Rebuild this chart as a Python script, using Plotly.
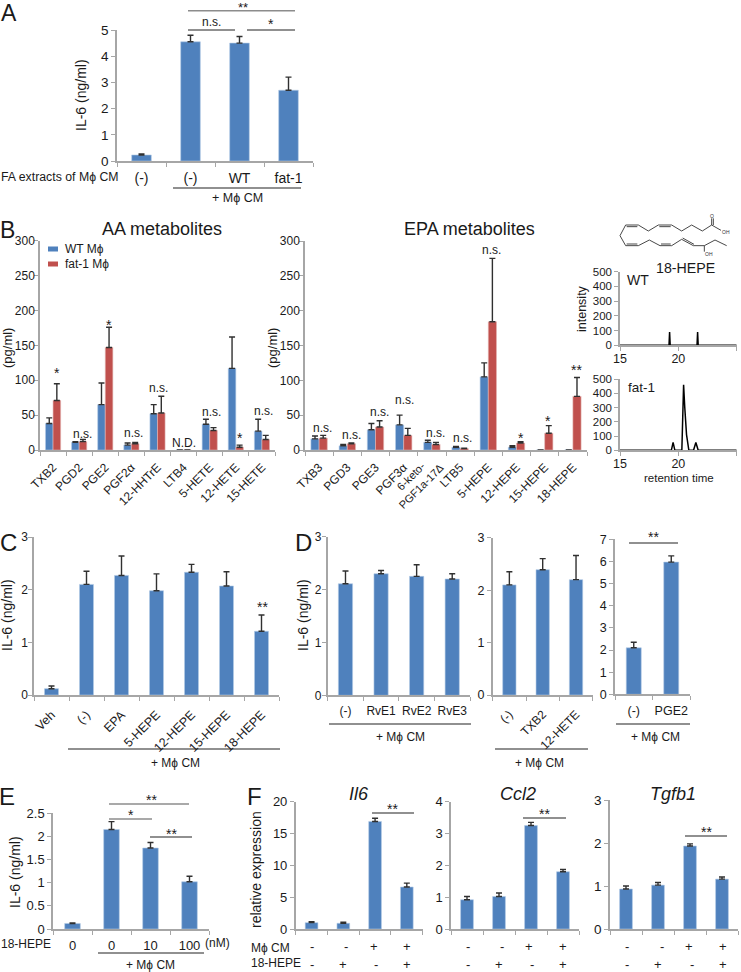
import plotly.graph_objects as go

W, H = 741, 972
BLUE = "#4f81bd"
RED = "#c0504d"
AX = "#a6a6a6"
INK = "#1a1a1a"
FONT = "Liberation Sans, Arial, sans-serif"
MCM = "+ M\u03d5 CM"

# ---------- data ----------
a_labels = ["(-)", "(-)", "WT", "fat-1"]
a_vals = [0.23, 4.55, 4.50, 2.70]
a_errs = [0.04, 0.25, 0.25, 0.50]

aa_labels = ["TXB2", "PGD2", "PGE2", "PGF2\u03b1", "12-HHTrE", "LTB4", "5-HETE", "12-HETE", "15-HETE"]
aa_wt = [38, 11, 65, 7, 52, 0, 37, 117, 27]
aa_wt_err = [8, 1, 31, 3, 13, 0, 7, 45, 17]
aa_fat = [71, 12, 147, 9, 53, 0, 28, 4, 15]
aa_fat_err = [24, 3, 29, 2, 24, 0, 4, 3, 6]

epa_labels = ["TXB3", "PGD3", "PGE3", "PGF3\u03b1", "", "LTB5", "5-HEPE", "12-HEPE", "15-HEPE", "18-HEPE"]
epa_long_label = "6-keto-<br>PGF1a-17\u2206"
epa_wt = [16, 6, 29, 36, 11, 4, 105, 4, 0, 0]
epa_wt_err = [4, 2, 9, 14, 3, 1, 20, 2, 0, 0]
epa_fat = [17, 9, 33, 21, 8, 2, 184, 10, 24, 77]
epa_fat_err = [4, 1, 9, 10, 3, 0.5, 91, 2, 11, 27]

wt_t = [15, 19.2, 19.25, 19.3, 21.6, 21.65, 21.7, 25]
wt_i = [0, 0, 90, 0, 0, 90, 0, 0]
fat_t = [15, 19.4, 19.55, 19.7, 20.3, 20.45, 20.55, 20.7, 20.9, 21.3, 21.5, 21.7, 25]
fat_i = [0, 0, 55, 0, 0, 460, 300, 110, 0, 0, 55, 0, 0]

c_labels = ["Veh", "(-)", "EPA", "5-HEPE", "12-HEPE", "15-HEPE", "18-HEPE"]
c_vals = [0.12, 2.10, 2.27, 1.98, 2.33, 2.07, 1.21]
c_errs = [0.05, 0.25, 0.37, 0.32, 0.15, 0.27, 0.31]

d1_labels = ["(-)", "RvE1", "RvE2", "RvE3"]
d1_vals = [2.11, 2.30, 2.25, 2.20]
d1_errs = [0.24, 0.06, 0.22, 0.10]

d2_labels = ["(-)", "TXB2", "12-HETE"]
d2_vals = [2.10, 2.39, 2.20]
d2_errs = [0.25, 0.21, 0.46]

d3_labels = ["(-)", "PGE2"]
d3_vals = [2.10, 5.97]
d3_errs = [0.25, 0.28]

e_labels = ["0", "0", "10", "100"]
e_vals = [0.12, 2.15, 1.75, 1.02]
e_errs = [0.01, 0.17, 0.12, 0.12]

il6_vals = [1.0, 0.9, 16.9, 6.6]
il6_errs = [0.15, 0.15, 0.5, 0.6]
ccl2_vals = [0.92, 1.02, 3.25, 1.80]
ccl2_errs = [0.10, 0.11, 0.10, 0.07]
tgfb1_vals = [0.93, 1.02, 1.93, 1.16]
tgfb1_errs = [0.07, 0.06, 0.05, 0.05]

mcm_signs = ["-", "-", "+", "+"]
hepe_signs = ["-", "+", "-", "+"]

fig = go.Figure()
annots, shapes = [], []
n_ax = 0


def px(x):
    return x / W


def py(y):
    return 1 - y / H


def T(text, x, y, size=13, angle=0, anchor="center", color=INK):
    annots.append(dict(text=text, x=px(x), y=py(y), xref="paper", yref="paper", showarrow=False,
                       font=dict(size=size, family=FONT, color=color), textangle=angle,
                       xanchor=anchor, yanchor="middle", align="center", borderpad=0))


def L(x0, x1, y, color="#222222", w=1.2):
    shapes.append(dict(type="line", xref="paper", yref="paper", x0=px(x0), x1=px(x1), y0=py(y), y1=py(y),
                       line=dict(color=color, width=w)))


def new_axes(x0, x1, ytop, ybot, xrange, yrange, ydtick, tick_size=13, ystand=0, **xkw):
    global n_ax
    n_ax += 1
    s = "" if n_ax == 1 else str(n_ax)
    yd = dict(domain=[py(ybot), py(ytop)], range=yrange, dtick=ydtick, anchor="x" + s, automargin=False,
              showgrid=False, zeroline=False, showline=True, linecolor=AX, linewidth=1.5,
              ticks="outside", ticklen=4, tickcolor=AX, tickwidth=1,
              tickfont=dict(size=tick_size, family=FONT, color=INK), ticklabelstandoff=ystand)
    xd = dict(domain=[px(x0), px(x1)], range=xrange, anchor="y" + s, showgrid=False, zeroline=False,
              automargin=False, showline=True, linecolor=AX, linewidth=1.5,
              tickfont=dict(size=tick_size, family=FONT, color=INK))
    xd.update(xkw)
    fig.layout["xaxis" + s] = xd
    fig.layout["yaxis" + s] = yd
    return "x" + s, "y" + s


def bar_panel(x0, x1, ytop, ybot, ymax, ydtick, labels, series, width=0.4, angle=0, tick_size=13,
              label_size=None, standoff=3, ystand=0):
    n = len(series[0][0])
    xs = list(range(n))
    edges = [i - 0.5 for i in range(n + 1)]
    xa, ya = new_axes(
        x0, x1, ytop, ybot, [-0.5, n - 0.5], [0, ymax], ydtick, tick_size, ystand,
        tickmode="array", tickvals=xs, ticktext=labels if labels else [""] * n,
        ticks="", tickangle=angle, ticklabelstandoff=standoff,
        tickfont=dict(size=label_size or tick_size, family=FONT, color=INK),
        minor=dict(tickmode="array", tickvals=edges, ticks="outside", ticklen=4,
                   tickcolor=AX, tickwidth=1, showgrid=False))
    w = width / len(series)
    for i, (vals, errs, col) in enumerate(series):
        off = (i - (len(series) - 1) / 2) * w
        fig.add_trace(go.Bar(
            x=[v + off for v in xs], y=vals, width=w, xaxis=xa, yaxis=ya, showlegend=False,
            marker=dict(color=col, line=dict(color="#b4cbe6" if col == BLUE else "#e2b4b2", width=0.6)),
            error_y=dict(type="data", array=errs, arrayminus=[0] * n, symmetric=False,
                         color="#303030", thickness=1.4, width=3)))


# ---------- A ----------
bar_panel(117, 313, 30, 161, 5, 1, a_labels, [(a_vals, a_errs, BLUE)], width=0.4, tick_size=13.5,
          label_size=14, standoff=3)
T("A", 9, 13, 23)
T("IL-6 (ng/ml)", 81, 95, 14, -90)
T("FA extracts of M\u03d5 CM", 0, 177, 12.3, anchor="left")
L(173, 301, 188)
T(MCM, 238, 198, 12.5)
L(188, 295, 10.7, "#8c8c8c", 1.4)
L(188, 235, 30)
L(247, 295, 30)
T("**", 243, 7.5, 13)
T("n.s.", 212, 22, 12)
T("*", 271, 24, 14)

# ---------- B left ----------
bar_panel(40, 275, 240.7, 450, 300, 50, aa_labels, [(aa_wt, aa_wt_err, BLUE), (aa_fat, aa_fat_err, RED)],
          width=0.58, angle=-45, tick_size=12, label_size=12, standoff=4, ystand=-3)
T("B", 7, 230, 23)
T("AA metabolites", 162, 229, 18)
T("(pg/ml)", 7, 348, 13, -90)
shapes.append(dict(type="rect", xref="paper", yref="paper", x0=px(48), x1=px(58), y0=py(246.5), y1=py(251.5),
                   fillcolor=BLUE, line=dict(width=0)))
shapes.append(dict(type="rect", xref="paper", yref="paper", x0=px(48), x1=px(58), y0=py(261.5), y1=py(266.5),
                   fillcolor=RED, line=dict(width=0)))
T("WT M\u03d5", 64, 249, 12, anchor="left")
T("fat-1 M\u03d5", 64, 264, 12, anchor="left")
for txt, x, y in [("*", 57, 373), ("n.s.", 82, 434), ("*", 109, 325), ("n.s.", 133, 433), ("n.s.", 158, 388),
                  ("N.D.", 184, 443), ("n.s.", 211, 412), ("*", 240, 438), ("n.s.", 263, 411)]:
    T(txt, x, y, 14 if "*" in txt else 12)

# ---------- B middle ----------
bar_panel(305, 587, 241, 450, 300, 50, epa_labels, [(epa_wt, epa_wt_err, BLUE), (epa_fat, epa_fat_err, RED)],
          width=0.58, angle=-45, tick_size=12, label_size=12, standoff=4, ystand=-3)
T("EPA metabolites", 469, 229, 18)
T("(pg/ml)", 272, 348, 13, -90)
T(epa_long_label, 416, 481, 11, -45)
for txt, x, y in [("n.s.", 322, 428), ("n.s.", 351, 435), ("n.s.", 379, 412), ("n.s.", 404, 400), ("n.s.", 435, 433),
                  ("n.s.", 462, 438), ("n.s.", 491, 250), ("*", 521, 438), ("*", 548, 421), ("**", 576, 370)]:
    T(txt, x, y, 14 if "*" in txt else 12)

# ---------- B right: structure and chromatograms ----------
chain_top = [(30, 92), (47, 60), (85, 60), (115, 78), (145, 60), (185, 60), (215, 78), (245, 60), (277, 78), (305, 60), (333, 76)]
chain_low = [(30, 92), (47, 122), (85, 122), (118, 105), (150, 122), (185, 122), (215, 103), (250, 122), (283, 122), (315, 105), (350, 122)]
double_bonds = [((50, 65), (82, 65)), ((148, 65), (182, 65)), ((50, 117), (82, 117)), ((153, 117), (182, 117)),
                ((218, 99), (252, 118)), ((310, 60), (310, 40)), ((305, 60), (305, 40)), ((283, 122), (283, 140))]


def zpx(p):
    return px(610 + p[0] / 3), py(205 + p[1] / 3)


for chain in (chain_top, chain_low):
    for p, q in zip(chain, chain[1:]):
        a, b = zpx(p), zpx(q)
        shapes.append(dict(type="line", xref="paper", yref="paper", x0=a[0], y0=a[1], x1=b[0], y1=b[1],
                           line=dict(color="#333333", width=0.9)))
for p, q in double_bonds:
    a, b = zpx(p), zpx(q)
    shapes.append(dict(type="line", xref="paper", yref="paper", x0=a[0], y0=a[1], x1=b[0], y1=b[1],
                       line=dict(color="#333333", width=0.9)))
T("OH", 610 + 348 / 3, 205 + 80 / 3, 5, color="#333333")
T("OH", 610 + 297 / 3, 205 + 148 / 3, 5, color="#333333")
T("O", 610 + 307 / 3, 205 + 33 / 3, 5, color="#333333")

for vals_t, vals_i, ytop, ybot in [(wt_t, wt_i, 271.7, 345.3), (fat_t, fat_i, 379, 450.3)]:
    xa, ya = new_axes(620, 736.7, ytop, ybot, [15, 25], [0, 500], 100, 11.5, dtick=5, ticks="outside",
                      ticklen=4, tickcolor=AX, tickwidth=1, ticklabelstandoff=-3,
                      tickfont=dict(size=12.5, family=FONT, color=INK))
    fig.add_trace(go.Scatter(x=vals_t, y=vals_i, mode="lines", xaxis=xa, yaxis=ya, showlegend=False,
                             line=dict(color="#000000", width=1.5, shape="linear")))
T("18-HEPE", 685, 268, 14.2)
T("WT", 638, 280, 14)
T("intensity", 582, 309, 12.5, -90)
T("fat-1", 641, 387, 13.5)
T("retention time", 679, 478, 11.5)

# ---------- C ----------
bar_panel(34, 279, 537, 695, 3, 1, c_labels, [(c_vals, c_errs, BLUE)], width=0.4, angle=-45, tick_size=12,
          label_size=12.5, standoff=6, ystand=-2)
T("C", 8, 542, 24)
T("IL-6 (ng/ml)", 7, 615, 14, -90)
L(68, 280, 749)
T(MCM, 175, 763, 12)
T("**", 262, 607, 14)

# ---------- D ----------
bar_panel(327.7, 470, 536.7, 695.3, 3, 1, d1_labels, [(d1_vals, d1_errs, BLUE)], width=0.4, tick_size=12,
          label_size=12, standoff=4, ystand=-2)
T("D", 303, 542, 24)
T("IL-6 (ng/ml)", 303, 615, 14, -90)
L(329, 471, 724)
T(MCM, 400, 737, 12)

bar_panel(492.7, 592.7, 537.7, 695, 3, 1, d2_labels, [(d2_vals, d2_errs, BLUE)], width=0.4, angle=-45, tick_size=12.5,
          label_size=12, standoff=6)
L(495, 588, 749)
T(MCM, 539, 763, 12)

bar_panel(615, 690, 539.3, 694.3, 7, 1, d3_labels, [(d3_vals, d3_errs, BLUE)], width=0.4, tick_size=12.5,
          label_size=12.5, standoff=4)
L(616, 690, 724)
T(MCM, 655, 737, 12)
L(629, 678, 543)
T("**", 653, 537, 14)

# ---------- E ----------
bar_panel(53, 209, 813.3, 929, 2.5, 0.5, e_labels, [(e_vals, e_errs, BLUE)], width=0.4, tick_size=13,
          label_size=13, standoff=4)
T("E", 7, 796, 24)
T("IL-6 (ng/ml)", 15, 872, 14, -90)
T("18-HEPE", 0, 944, 12, anchor="left")
T("(nM)", 217, 943, 12)
L(98, 204, 953)
T(MCM, 150, 965, 12)
L(109, 189, 804, "#8c8c8c", 1.4)
L(109, 152, 819, "#8c8c8c", 1.4)
L(150, 192, 837)
T("**", 151, 800, 14)
T("*", 131, 815, 14)
T("**", 171, 834, 14)

# ---------- F ----------
bar_panel(295.7, 422.7, 801.7, 929, 20, 5, None, [(il6_vals, il6_errs, BLUE)], width=0.4, tick_size=13)
bar_panel(451, 579, 801.7, 929, 4, 1, None, [(ccl2_vals, ccl2_errs, BLUE)], width=0.4, tick_size=13)
bar_panel(610, 738, 800, 929, 3, 1, None, [(tgfb1_vals, tgfb1_errs, BLUE)], width=0.4, tick_size=13.5)
T("F", 255, 796, 24)
T("relative expression", 256, 870, 14, -90)
T("M\u03d5 CM", 250, 948, 12, anchor="left")
T("18-HEPE", 250, 963, 12, anchor="left")
T("<i>Il6</i>", 359, 794, 18)
T("<i>Ccl2</i>", 518, 794, 18)
T("<i>Tgfb1</i>", 673, 794, 18)
for x0, x1, y, tx, ty in [(372, 414, 813, 392, 809), (523, 566, 818, 544, 814), (685, 727, 836, 706, 832)]:
    L(x0, x1, y)
    T("**", tx, ty, 14)
row1_x = [[65, 168, 252, 352], [533, 635, 718, 820], [1012, 1115, 1197, 1298]]
row2_x = [[65, 160, 258, 352], [533, 627, 725, 820], [1012, 1105, 1205, 1298]]
for r1, r2 in zip(row1_x, row2_x):
    for s, z in zip(mcm_signs, r1):
        T(s, 290 + z / 3, 946, 13)
    for s, z in zip(hepe_signs, r2):
        T(s, 290 + z / 3, 964, 13)

fig.update_layout(width=W, height=H, margin=dict(l=0, r=0, t=0, b=0, pad=0), plot_bgcolor="white", paper_bgcolor="white",
                  barmode="overlay", annotations=annots, shapes=shapes, font=dict(family=FONT, color=INK),
                  showlegend=False)
fig.write_html("out.html", config={"displayModeBar": False},
               post_script="document.body.style.margin='0';document.documentElement.style.overflow='hidden';")
